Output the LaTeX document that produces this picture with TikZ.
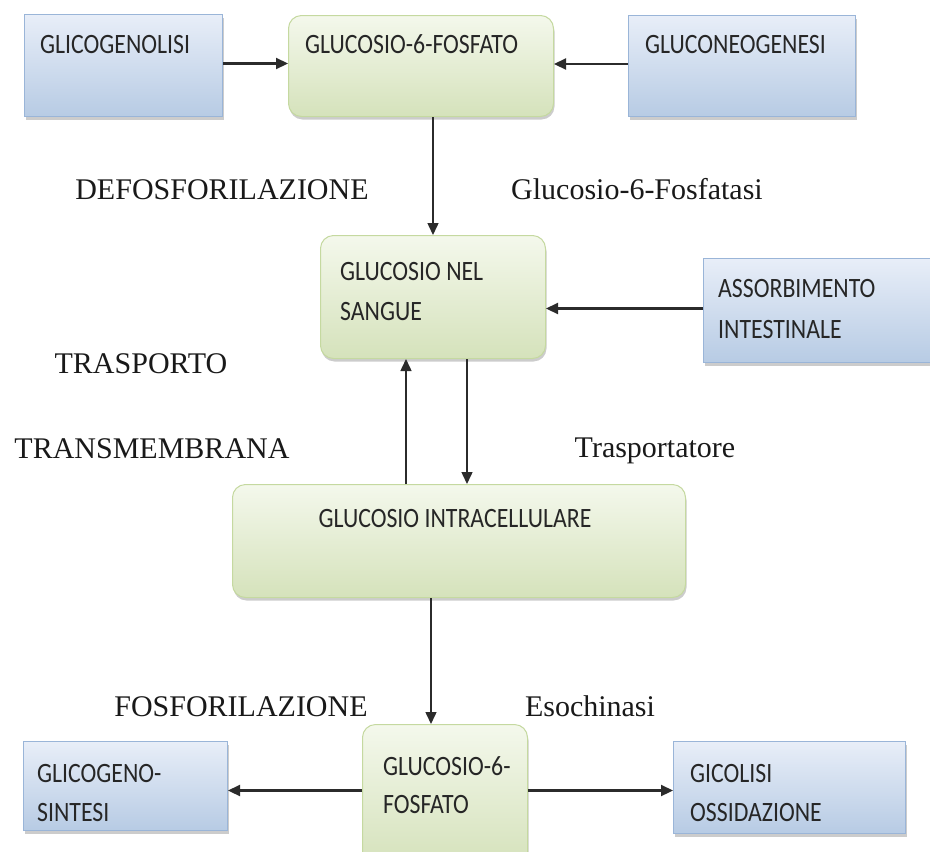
\documentclass[tikz,border=0pt]{standalone}
\usepackage{fontspec}
\setmainfont{Liberation Serif}
\newfontfamily\boxfont[FakeStretch=0.85]{Carlito}
\usetikzlibrary{arrows.meta,shadows}
\definecolor{bluetop}{HTML}{E8EEF8}
\definecolor{bluebot}{HTML}{B7CBE4}
\definecolor{blueline}{HTML}{9AB5D8}
\definecolor{greentop}{HTML}{F4F8EC}
\definecolor{greenbot}{HTML}{D5E2BB}
\definecolor{greenline}{HTML}{C5D9A0}
\definecolor{arrowcol}{HTML}{2B2B2B}
\tikzset{
  boxbase/.style={line width=1pt, inner sep=0pt, anchor=north west,
    drop shadow={shadow xshift=1pt, shadow yshift=-3pt, opacity=0.4}},
  bluebox/.style={boxbase, draw=blueline, top color=bluetop, bottom color=bluebot},
  greenbox/.style={boxbase, draw=greenline, top color=greentop, bottom color=greenbot, rounded corners=13pt},
  boxtxt/.style={anchor=base west, inner sep=0pt, font=\boxfont\fontsize{28}{34}\selectfont, text=black!85},
  lbl/.style={anchor=base, inner sep=0pt, font=\fontsize{30}{36}\selectfont, text=black!90},
  arr/.style={draw=arrowcol, line width=2.2pt, -{Triangle[length=12pt,width=11pt]}},
  varr/.style={arr, line width=1.5pt}
}
\begin{document}
\begin{tikzpicture}[x=1pt,y=-1pt]
\useasboundingbox (0,0) rectangle (930,852);
% boxes
\node[bluebox, minimum width=198pt, minimum height=102pt] (glicogenolisi) at (24,14) {};
\node[greenbox, minimum width=265pt, minimum height=101pt] (g6pt) at (288,15) {};
\node[bluebox, minimum width=227pt, minimum height=101pt] (gluconeo) at (628,15) {};
\node[greenbox, minimum width=225pt, minimum height=123pt] (sangue) at (320,235) {};
\node[bluebox, minimum width=240pt, minimum height=104pt] (assorb) at (703,258) {};
\node[greenbox, minimum width=453pt, minimum height=113pt] (intra) at (232,484) {};
\node[greenbox, minimum width=165pt, minimum height=141pt] (g6pb) at (362,724) {};
\node[bluebox, minimum width=204pt, minimum height=89pt] (gsint) at (23,741) {};
\node[bluebox, minimum width=232pt, minimum height=92pt] (glicolisi) at (673,741) {};
% box texts
\node[boxtxt] (t1) at (40,53) {GLICOGENOLISI};
\node[boxtxt] (t2) at (305,53) {GLUCOSIO-6-FOSFATO};
\node[boxtxt] (t3) at (645,53) {GLUCONEOGENESI};
\node[boxtxt] (t4) at (340,280) {GLUCOSIO NEL};
\node[boxtxt] (t5) at (340,320) {SANGUE};
\node[boxtxt] (t6) at (718,297) {ASSORBIMENTO};
\node[boxtxt] (t7) at (718,338) {INTESTINALE};
\node[boxtxt, anchor=base] (t8) at (455,527) {GLUCOSIO INTRACELLULARE};
\node[boxtxt] (t9) at (383,775) {GLUCOSIO-6-};
\node[boxtxt] (t10) at (383,813) {FOSFATO};
\node[boxtxt] (t11) at (37,782) {GLICOGENO-};
\node[boxtxt] (t12) at (37,821) {SINTESI};
\node[boxtxt] (t13) at (690,782) {GICOLISI};
\node[boxtxt] (t14) at (690,821) {OSSIDAZIONE};
% serif labels
\node[lbl] (l1) at (222,199) {DEFOSFORILAZIONE};
\node[lbl] (l2) at (637,199) {Glucosio-6-Fosfatasi};
\node[lbl] (l3) at (141,373) {TRASPORTO};
\node[lbl] (l4) at (152,458) {TRANSMEMBRANA};
\node[lbl] (l5) at (655,457) {Trasportatore};
\node[lbl] (l6) at (241,716) {FOSFORILAZIONE};
\node[lbl] (l7) at (590,716) {Esochinasi};
% arrows
\draw[arr] ([yshift=2pt]glicogenolisi.east) -- ([yshift=2pt]glicogenolisi.east -| g6pt.west);
\draw[arr] ([yshift=2pt]gluconeo.west) -- ([yshift=2pt]gluconeo.west -| g6pt.east);
\draw[varr] (g6pt.south -| sangue.north) -- (sangue.north);
\draw[arr] ([yshift=2pt]assorb.west) -- ([yshift=2pt]assorb.west -| sangue.east);
\draw[varr] ([xshift=-27pt]sangue.south |- intra.north) -- ([xshift=-27pt]sangue.south);
\draw[varr] ([xshift=34pt]sangue.south) -- ([xshift=34pt]sangue.south |- intra.north);
\draw[varr] ([xshift=-14pt]g6pb.north |- intra.south) -- ([xshift=-14pt]g6pb.north);
\draw[arr] ([yshift=-4.5pt]gsint.east -| g6pb.west) -- ([yshift=-4.5pt]gsint.east);
\draw[arr] ([yshift=-4.5pt]gsint.east -| g6pb.east) -- ([yshift=-4.5pt]gsint.east -| glicolisi.west);
\end{tikzpicture}
\end{document}
